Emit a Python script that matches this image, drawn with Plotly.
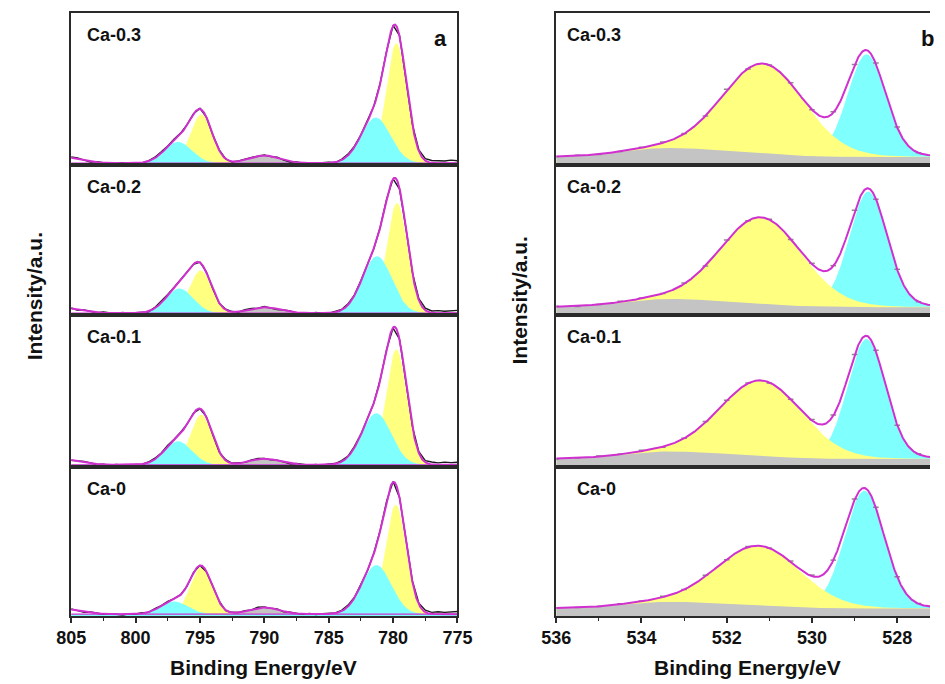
import numpy as np
import plotly.graph_objects as go

samples = ["Ca-0.3", "Ca-0.2", "Ca-0.1", "Ca-0"]

# ---------------- Co 2p fit (heights: fraction of panel height, widths: FWHM in eV)
co_background = [0.012, 0.012, 0.014, 0.012]
co_main32_center = [779.75, 779.7, 779.75, 779.8]
co_main32_height = [0.79, 0.735, 0.76, 0.735]
co_main32_fwhm = [1.9, 1.9, 1.9, 1.9]
co_shoulder32_center = [781.35, 781.25, 781.3, 781.3]
co_shoulder32_height = [0.30, 0.38, 0.34, 0.33]
co_shoulder32_fwhm = [2.7, 2.7, 2.7, 2.7]
co_main12_center = [794.9, 794.95, 794.9, 794.9]
co_main12_height = [0.32, 0.285, 0.33, 0.315]
co_main12_fwhm = [2.0, 2.0, 2.0, 2.0]
co_shoulder12_center = [796.7, 796.6, 796.7, 797.0]
co_shoulder12_height = [0.14, 0.165, 0.155, 0.085]
co_shoulder12_fwhm = [2.5, 2.5, 2.5, 2.5]
co_sat_center = [790.0, 790.0, 790.0, 790.0]
co_sat_height = [0.05, 0.04, 0.04, 0.045]
co_sat_fwhm = [2.8, 2.8, 2.8, 2.8]
co_sat2_center = [806.0, 806.0, 806.0, 806.0]
co_sat2_height = [0.045, 0.04, 0.04, 0.04]
co_sat2_fwhm = [3.5, 3.5, 3.5, 3.5]

# measured Co 2p counts minus fit, in thousandths, 805 -> 775 eV every 0.5 eV
co_residual = [
    [5, 8, 2, -3, 4, 0, -5, -2, 3, -4, 0, -3, 2, 6, 8, 5, 10, 6, 3, 2, 4, 0, -2, 3, 0, -4, 2, 5, 3, 0,
     4, -3, 5, -2, -4, 3, -2, 0, -5, 2, 4, -3, 5, 8, 5, 3, 6, 2, 4, 0, 3, 5, -3, 2, 8, 12, 15, 18, 14, 20, 16],
    [3, -4, 6, 2, -2, 5, 0, -3, 4, -2, 3, 0, -4, 5, 9, 6, 4, 8, 2, -2, 3, 5, 0, -3, 4, 2, -2, 6, 3, -3,
     5, 0, -4, 3, 6, -2, 2, -3, 4, 0, -2, 5, 3, 7, 4, 6, 2, -2, 3, 5, 0, -4, 4, 6, 10, 14, 12, 17, 13, 15, 19],
    [-2, 4, 7, 3, -3, 2, -4, 3, 0, -5, 2, -2, 4, 7, 5, 9, 4, 6, 0, 3, -2, 4, 2, -3, 5, 0, 3, -2, 4, 6,
     2, -4, 3, 0, -3, 5, 2, -2, 3, -4, 5, 2, 7, 4, 8, 3, 5, -2, 4, 2, -3, 3, 0, 5, 9, 11, 16, 13, 18, 15, 17],
    [4, 0, -4, 5, 2, -3, 3, -2, -5, 2, 0, 4, -2, 6, 3, 8, 5, 2, -3, 4, 0, -2, 3, 5, -4, 2, 0, 4, -3, 6,
     3, -2, 4, -4, 2, 0, -3, 4, -2, 3, 6, 2, 5, 9, 4, 3, -2, 5, 2, -3, 4, 0, -2, 6, 8, 13, 10, 16, 12, 14, 18],
]

# ---------------- O 1s fit
o_base = [0.052, 0.052, 0.052, 0.05]
o_bg_center = [533.4, 533.4, 533.4, 533.4]
o_bg_height = [0.06, 0.055, 0.05, 0.045]
o_bg_sigma_high = [1.0, 1.0, 1.0, 1.0]
o_bg_sigma_low = [1.6, 1.6, 1.6, 1.6]
o_hydroxyl_center = [531.15, 531.2, 531.2, 531.25]
o_hydroxyl_height = [0.59, 0.575, 0.495, 0.40]
o_hydroxyl_fwhm = [2.25, 2.25, 2.25, 2.3]
o_lattice_center = [528.72, 528.68, 528.72, 528.77]
o_lattice_height = [0.676, 0.77, 0.79, 0.79]
o_lattice_fwhm = [1.05, 1.05, 1.05, 1.1]

# measured O 1s counts minus fit, in thousandths, 536 -> 527.5 eV every 0.5 eV
o_residual = [
    [0, 3, -2, 0, 4, 6, 2, 0, 8, -3, 0, 5, 0, 7, 4, 6, 3, 0],
    [2, -3, 0, 4, 3, 0, 6, -2, 5, 0, 3, -4, 6, 3, 8, -3, 2, 0],
    [-2, 0, 3, 2, 5, -3, 0, 6, 4, 2, -3, 0, 7, 5, 3, 6, -2, 3],
    [3, 0, -2, 4, 2, 5, 0, 6, -3, 4, 0, 5, 8, 2, 6, 4, 0, 2],
]

CO_RANGE = [805, 775]
O_RANGE = [536, 527.23]

YELLOW = "#FFFF80"
CYAN = "#80FFFF"
GRAY = "#C4C4C4"
MAGENTA = "#D030D0"
AXIS = "#2a2a2a"
FONT = "Arial, Liberation Sans, sans-serif"

W, H = 945, 684


def gl(x, c, h, w, m=0.0):
    d = (x - c) / w
    return h * ((1 - m) * np.exp(-4 * np.log(2) * d * d) + m / (1 + 4 * d * d))


def asym_gauss(x, c, h, s_high, s_low):
    s = np.where(x > c, s_high, s_low)
    return h * np.exp(-0.5 * ((x - c) / s) ** 2)


def co_parts(x, i):
    bg = np.full_like(x, co_background[i])
    yel = gl(x, co_main32_center[i], co_main32_height[i], co_main32_fwhm[i]) + \
        gl(x, co_main12_center[i], co_main12_height[i], co_main12_fwhm[i])
    cya = gl(x, co_shoulder32_center[i], co_shoulder32_height[i], co_shoulder32_fwhm[i]) + \
        gl(x, co_shoulder12_center[i], co_shoulder12_height[i], co_shoulder12_fwhm[i])
    sat = gl(x, co_sat_center[i], co_sat_height[i], co_sat_fwhm[i])
    sat2 = gl(x, co_sat2_center[i], co_sat2_height[i], co_sat2_fwhm[i])
    env = bg + yel + cya + sat + sat2
    return bg, yel, cya, sat, env


def o_parts(x, i):
    bg = o_base[i] + asym_gauss(x, o_bg_center[i], o_bg_height[i], o_bg_sigma_high[i], o_bg_sigma_low[i])
    yel = gl(x, o_hydroxyl_center[i], o_hydroxyl_height[i], o_hydroxyl_fwhm[i], 0.05)
    cya = gl(x, o_lattice_center[i], o_lattice_height[i], o_lattice_fwhm[i], 0.1)
    env = bg + yel + cya
    return bg, yel, cya, env


# panel geometry in pixels
panel_edges = [13, 165, 315, 467, 616]
left_x = (58, 457)
right_x = (559, 945)


def px_x(p):
    return p / W


def px_y(p):
    return 1 - p / H


fig = go.Figure()
layout = {}


def fill_trace(x, y, color, ax):
    return go.Scatter(x=x, y=y, mode="lines", fill="tozeroy", fillcolor=color,
                      line=dict(width=0, color=color), hoverinfo="skip",
                      xaxis=ax[0], yaxis=ax[1], showlegend=False)


co_x = np.linspace(CO_RANGE[0], CO_RANGE[1], 1201)
co_raw_x = np.array([805 - 0.5 * k for k in range(61)])
o_x = np.linspace(536, 527.0, 901)
o_raw_x = np.array([536 - 0.5 * k for k in range(18)])

for r in range(4):
    top, bot = panel_edges[r], panel_edges[r + 1]
    ydom = [px_y(bot), px_y(top)]
    bottom = r == 3
    for col in range(2):
        n = r * 2 + col + 1
        xname, yname = f"x{n}", f"y{n}"
        xkey = "xaxis" if n == 1 else f"xaxis{n}"
        ykey = "yaxis" if n == 1 else f"yaxis{n}"
        xdom = left_x if col == 0 else right_x
        xa = dict(domain=[px_x(xdom[0]), px_x(xdom[1])], anchor=yname,
                  range=CO_RANGE if col == 0 else O_RANGE,
                  showgrid=False, zeroline=False, showline=True, linecolor=AXIS,
                  linewidth=1.5, mirror=True, fixedrange=True)
        if bottom:
            xa.update(ticks="outside", ticklen=5, tickwidth=1.5, tickcolor=AXIS,
                      dtick=5 if col == 0 else 2, tick0=0,
                      tickfont=dict(family=FONT, size=18, color="#111", weight="bold"),
                      minor=dict(ticks="outside", ticklen=3, tickwidth=1.2, tickcolor=AXIS,
                                 dtick=2.5 if col == 0 else 1))
        else:
            xa.update(showticklabels=False, ticks="")
        ya = dict(domain=ydom, anchor=xname, range=[0, 1], showgrid=False, zeroline=False,
                  showticklabels=False, ticks="", showline=True, linecolor=AXIS,
                  linewidth=1.5, mirror=(col == 0), fixedrange=True)
        layout[xkey] = xa
        layout[ykey] = ya
        ax = (xname, yname)

        if col == 0:
            bg, yel, cya, sat, env = co_parts(co_x, r)
            fig.add_trace(fill_trace(co_x, bg + yel, YELLOW, ax))
            fig.add_trace(fill_trace(co_x, bg + sat, GRAY, ax))
            fig.add_trace(fill_trace(co_x, bg + cya, CYAN, ax))
            fig.add_trace(go.Scatter(x=co_x, y=bg, mode="lines", xaxis=xname, yaxis=yname,
                                     line=dict(color=MAGENTA, width=1.3), hoverinfo="skip",
                                     showlegend=False))
            raw = co_parts(co_raw_x, r)[4] + np.array(co_residual[r]) / 1000.0
            fig.add_trace(go.Scatter(x=co_raw_x, y=raw, mode="lines", xaxis=xname, yaxis=yname,
                                     line=dict(color="#1a1a1a", width=1.4), hoverinfo="skip",
                                     showlegend=False))
            fig.add_trace(go.Scatter(x=co_x, y=env, mode="lines", xaxis=xname, yaxis=yname,
                                     line=dict(color=MAGENTA, width=2), hoverinfo="skip",
                                     showlegend=False))
        else:
            bg, yel, cya, env = o_parts(o_x, r)
            fig.add_trace(fill_trace(o_x, bg + cya, CYAN, ax))
            fig.add_trace(fill_trace(o_x, bg + yel, YELLOW, ax))
            fig.add_trace(fill_trace(o_x, bg, GRAY, ax))
            raw = o_parts(o_raw_x, r)[3] + np.array(o_residual[r]) / 1000.0
            fig.add_trace(go.Scatter(x=o_raw_x, y=raw, mode="markers", xaxis=xname, yaxis=yname,
                                     marker=dict(symbol="line-ew", size=4, color="#8a8a8a",
                                                 line=dict(width=1.5, color="#8a8a8a")),
                                     hoverinfo="skip", showlegend=False))
            fig.add_trace(go.Scatter(x=o_x, y=env, mode="lines", xaxis=xname, yaxis=yname,
                                     line=dict(color=MAGENTA, width=2), hoverinfo="skip",
                                     showlegend=False))

annotations = []
label_font = dict(family=FONT, size=18, color="#111", weight="bold")
for r, name in enumerate(samples):
    yc = panel_edges[r] + 22
    annotations.append(dict(x=px_x(72), y=px_y(yc), xref="paper", yref="paper", text=name,
                            showarrow=False, xanchor="left", yanchor="middle", font=label_font))
    rx = 578 if name == "Ca-0" else 568
    annotations.append(dict(x=px_x(rx), y=px_y(yc), xref="paper", yref="paper", text=name,
                            showarrow=False, xanchor="left", yanchor="middle", font=label_font))

big = dict(family=FONT, size=22, color="#111", weight="bold")
annotations.append(dict(x=px_x(439), y=px_y(38), xref="paper", yref="paper", text="a",
                        showarrow=False, xanchor="center", yanchor="middle", font=big))
annotations.append(dict(x=px_x(934), y=px_y(38), xref="paper", yref="paper", text="b",
                        showarrow=False, xanchor="left", yanchor="middle", font=big))

title_font = dict(family=FONT, size=21, color="#111", weight="bold")
for cx in (257, 757):
    annotations.append(dict(x=px_x(cx), y=px_y(667), xref="paper", yref="paper",
                            text="Binding Energy/eV", showarrow=False, xanchor="center",
                            yanchor="middle", font=title_font))
for cx, cy in ((20, 296), (521, 300)):
    annotations.append(dict(x=px_x(cx), y=px_y(cy), xref="paper", yref="paper",
                            text="Intensity/a.u.", showarrow=False, textangle=-90,
                            xanchor="center", yanchor="middle", font=title_font))

fig.update_layout(width=W, height=H, margin=dict(l=0, r=0, t=0, b=0),
                  paper_bgcolor="white", plot_bgcolor="white",
                  showlegend=False, annotations=annotations, **layout)

fig.write_html("out.html")
